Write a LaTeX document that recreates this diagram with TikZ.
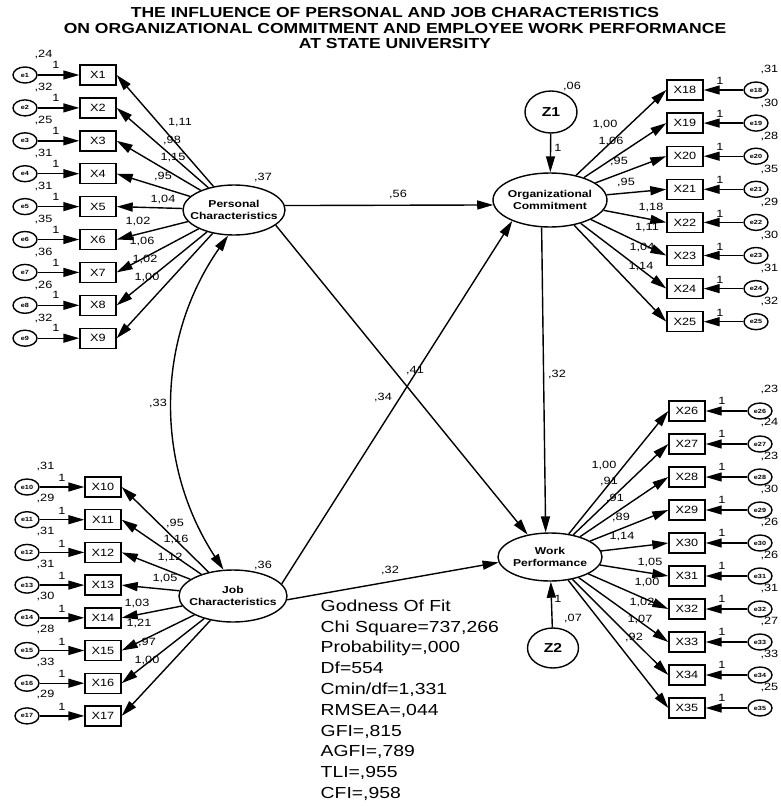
\documentclass[tikz,border=0pt]{standalone}
\usepackage{fontspec}
\setmainfont{Liberation Sans}[FakeStretch=1.21]
\usetikzlibrary{arrows.meta,shapes.geometric}

\newcommand{\fsz}[1]{\fontsize{#1}{#1}\selectfont}

\begin{document}
\begin{tikzpicture}[x=1pt,y=-1pt,line width=1.4pt,
  obs/.style={draw,rectangle,minimum width=36pt,minimum height=20pt,inner sep=0pt,font=\fsz{10.5}},
  err/.style={draw,ellipse,minimum width=24pt,minimum height=16pt,inner sep=0pt,font=\bfseries\fsz{6}},
  lat/.style={draw,ellipse,inner sep=0pt},
  latname/.style={align=center,font=\bfseries\fontsize{10}{12}\selectfont},
  dist/.style={draw,ellipse,minimum width=52pt,minimum height=42pt,inner sep=0pt,font=\bfseries\fsz{13}},
  arr/.style={-{Triangle[length=16pt,width=9pt]}},
  num/.style={inner sep=0pt,font=\fsz{10.5}},
]
\path[fill=white,use as bounding box] (0,0) rectangle (780,806);

% title
\node[align=center,inner sep=0pt,font=\bfseries\fontsize{14.5}{15.5}\selectfont] (title) at (395,28.5)
  {THE INFLUENCE OF PERSONAL AND JOB CHARACTERISTICS\\
   ON ORGANIZATIONAL COMMITMENT AND EMPLOYEE WORK PERFORMANCE\\
   AT STATE UNIVERSITY};

% latent variables
\node[lat,minimum width=102pt,minimum height=50pt,label={[latname]center:Personal\\Characteristics}] (PC) at (234,210) {};
\node[lat,minimum width=108pt,minimum height=52pt,label={[latname]center:Job\\Characteristics}] (JC) at (233,596) {};
\node[lat,minimum width=114pt,minimum height=54pt,label={[latname]center:Organizational\\Commitment}] (OC) at (550,200) {};
\node[lat,minimum width=104pt,minimum height=48pt,label={[latname]center:Work\\Performance}] (WP) at (550,557) {};
\node[dist] (Z1) at (551,112) {Z1};
\node[dist,minimum width=51pt,minimum height=40pt] (Z2) at (553,648) {Z2};

% indicators of Personal Characteristics
\foreach \i/\v [count=\k from 0] in {1/24,2/32,3/25,4/31,5/31,6/35,7/36,8/26,9/32} {
  \pgfmathsetmacro\yy{75+\k*32.9}
  \node[obs] (X\i) at (98,\yy) {X\i};
  \node[err] (e\i) at (25,\yy) {e\i};
  \draw[arr] (e\i) -- (X\i);
  \draw[arr] (PC) -- (X\i.east);
  \node[num] at (56,\yy-10) {1};
  \node[num,anchor=west] at (34,\yy-20) {,\v};
}
% indicators of Job Characteristics
\foreach \i/\v [count=\k from 0] in {10/31,11/29,12/31,13/31,14/30,15/28,16/33,17/29} {
  \pgfmathsetmacro\yy{487+\k*32.7}
  \node[obs] (X\i) at (103,\yy) {X\i};
  \node[err] (e\i) at (27,\yy) {e\i};
  \draw[arr] (e\i) -- (X\i);
  \draw[arr] (JC) -- (X\i.east);
  \node[num] at (62,\yy-9) {1};
  \node[num,anchor=west] at (36,\yy-21) {,\v};
}
% indicators of Organizational Commitment
\foreach \i/\v [count=\k from 0] in {18/31,19/30,20/28,21/35,22/29,23/30,24/31,25/32} {
  \pgfmathsetmacro\yy{90+\k*33.1}
  \node[obs] (X\i) at (685,\yy) {X\i};
  \node[err] (e\i) at (756,\yy) {e\i};
  \draw[arr] (e\i) -- (X\i);
  \draw[arr] (OC) -- (X\i.west);
  \node[num] at (720,\yy-9) {1};
  \node[num,anchor=east] at (779,\yy-20) {,\v};
}
% indicators of Work Performance
\foreach \i/\v [count=\k from 0] in {26/23,27/24,28/23,29/30,30/26,31/26,32/31,33/27,34/33,35/25} {
  \pgfmathsetmacro\yy{411+\k*33}
  \node[obs] (X\i) at (687,\yy) {X\i};
  \node[err] (e\i) at (760,\yy) {e\i};
  \draw[arr] (e\i) -- (X\i);
  \draw[arr] (WP) -- (X\i.west);
  \node[num] at (722,\yy-10) {1};
  \node[num,anchor=east] at (779,\yy-21) {,\v};
}

% loadings
\foreach \t/\x/\y in {{1,11}/180/123,{,98}/172/141,{1,15}/173/158,{,95}/163/177,{1,04}/163/200,
  {1,02}/138/222,{1,06}/142/242,{1,02}/145/260,{1,00}/147/278,
  {,95}/175/523,{1,16}/176/539,{1,12}/170/557,{1,05}/165/578,{1,03}/137/603,{1,21}/139/623,
  {,97}/147/642,{1,00}/147/660,
  {1,00}/605/125,{1,06}/611/142,{,95}/619/162,{,95}/626/183,{1,18}/651/208,{1,11}/647/228,
  {1,04}/642/248,{1,14}/641/267,
  {1,00}/604/465,{,91}/609/481,{,91}/615/498,{,89}/621/517,{1,14}/622/537,{1,05}/650/562,
  {1,00}/647/582,{1,02}/642/602,{1,07}/640/619,{,92}/634/637}
  \node[num] at (\x,\y) {\t};

% structural paths
\draw[arr] (Z1) -- (OC);
\draw[arr] (Z2) -- (WP);
\draw[arr] (PC.5) -- (OC.185);
\draw[arr] (PC.340) -- (WP.135);
\draw[arr] (JC.14) -- (OC.209);
\draw[arr] (JC.356) -- (WP.186);
\draw[arr] (OC.253) -- (WP.100);
\draw[{Triangle[length=16pt,width=9pt]}-{Triangle[length=16pt,width=9pt]}]
  (PC.257) .. controls (155,340) and (155,465) .. (JC.110);

% path estimates and variances
\node[num] at (398,195) {,56};
\node[num] at (415,371) {,41};
\node[num] at (383,398) {,34};
\node[num] at (557,375) {,32};
\node[num] at (390,570) {,32};
\node[num] at (158,403) {,33};
\node[num] at (263,178) {,37};
\node[num] at (263,565) {,36};
\node[num] at (572,87) {,06};
\node[num] at (573,618) {,07};
\node[num] at (558,148) {1};
\node[num] at (558,599) {1};

% fit indices
\node[anchor=north west,align=left,inner sep=0pt,font=\fontsize{16}{20.8}\selectfont] (gof) at (320,599)
  {Godness Of Fit\\Chi Square=737,266\\Probability=,000\\Df=554\\Cmin/df=1,331\\RMSEA=,044\\GFI=,815\\AGFI=,789\\TLI=,955\\CFI=,958};
\end{tikzpicture}
\end{document}
